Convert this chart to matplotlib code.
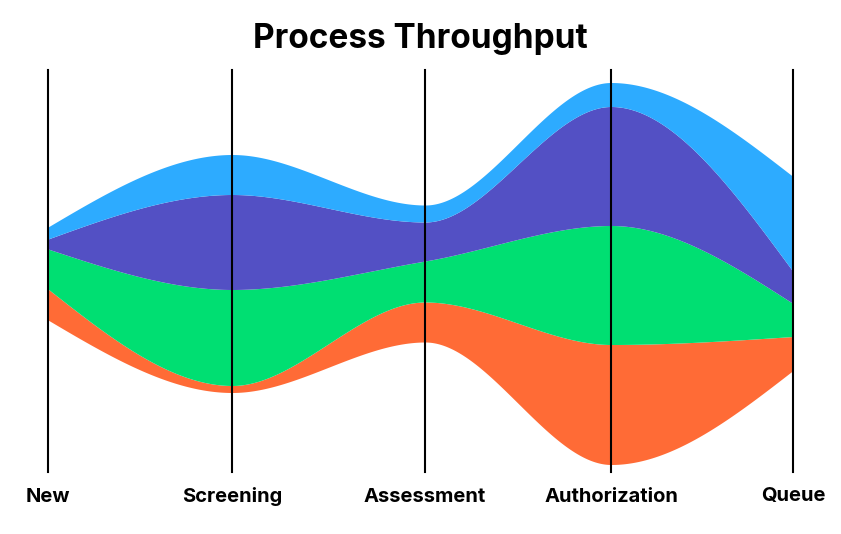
"""Process throughput streamgraph (centred stack, monotone-smoothed)."""
import numpy as np
import matplotlib
matplotlib.use("Agg")
import matplotlib.pyplot as plt

stages = ["New", "Screening", "Assessment", "Authorization", "Queue"]
stage_x = [0, 184, 377, 563, 745]

# series from bottom of the stack to the top
orange = [31, 7, 40, 120, 34]
green = [40, 96, 41, 119, 33]
purple = [10, 95, 39, 119, 32]
light_blue = [12, 40, 17, 24, 95]

series = [orange, green, purple, light_blue]
colors = ["#FF6B36", "#00DF72", "#5350C4", "#2DABFF"]


def monotone_slopes(x, y):
    # same tangents as d3.curveMonotoneX
    n = len(x)
    h = np.diff(x)
    s = np.diff(y) / h
    t = np.zeros(n)
    for i in range(1, n - 1):
        p = (s[i - 1] * h[i] + s[i] * h[i - 1]) / (h[i - 1] + h[i])
        t[i] = (np.sign(s[i - 1]) + np.sign(s[i])) * min(abs(s[i - 1]), abs(s[i]), 0.5 * abs(p))
    t[0] = (3 * s[0] - t[1]) / 2
    t[-1] = (3 * s[-1] - t[-2]) / 2
    return t


def smooth(x, y, xs):
    x = np.asarray(x, float)
    y = np.asarray(y, float)
    t = monotone_slopes(x, y)
    out = np.empty_like(xs)
    for k, xv in enumerate(xs):
        i = min(np.searchsorted(x, xv, side="right") - 1, len(x) - 2)
        h = x[i + 1] - x[i]
        u = (xv - x[i]) / h
        h00 = 2 * u**3 - 3 * u**2 + 1
        h10 = u**3 - 2 * u**2 + u
        h01 = -2 * u**3 + 3 * u**2
        h11 = u**3 - u**2
        out[k] = h00 * y[i] + h10 * h * t[i] + h01 * y[i + 1] + h11 * h * t[i + 1]
    return out


x = np.asarray(stage_x, dtype=float)
vals = np.array(series, dtype=float)
base = -vals.sum(axis=0) / 2
edges = np.vstack([base, base + np.cumsum(vals, axis=0)])

xs = np.linspace(x[0], x[-1], 800)
curves = [smooth(x, e, xs) for e in edges]

fig = plt.figure(figsize=(8.41, 5.34), dpi=100)
ax = fig.add_axes([48 / 841, 62 / 534, (793 - 48) / 841, (472 - 70) / 534])

for i, c in enumerate(colors):
    ax.fill_between(xs, curves[i], curves[i + 1], color=c, linewidth=0, zorder=1)

for xi in x:
    ax.axvline(xi, color="black", lw=1.5, zorder=3, clip_on=False)

ax.set_xlim(x[0], x[-1])
ax.set_ylim(-198.5, 203.5)
ax.axis("off")

for xi, name in zip(x, stages):
    ax.text(xi, -223, name, ha="center", va="center", fontsize=14.5,
            fontweight="bold", family="Inter", clip_on=False)

fig.text(420 / 841, 1 - 39 / 534, "Process Throughput", ha="center", va="center",
         fontsize=24, fontweight="bold", family="Inter")

fig.savefig("out.png", dpi=100)
